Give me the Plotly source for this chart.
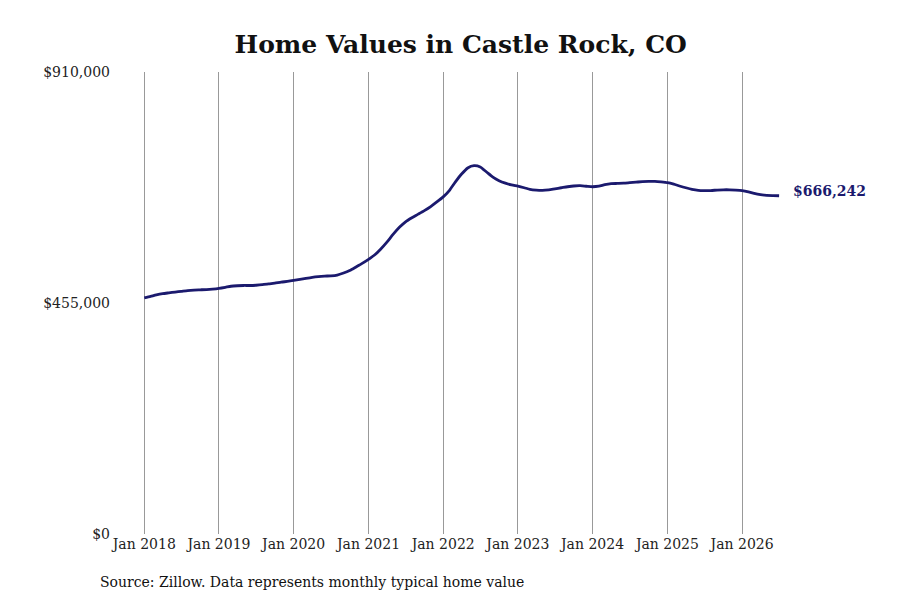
import plotly.graph_objects as go
import pandas as pd

# monthly typical home value, Castle Rock CO
start_month = "2018-01-01"
values = [
    465000, 468000, 471000, 473500, 475000, 476500, 478000, 479500, 480500, 481000, 481500, 482500,
    484000, 486000, 488000, 489000, 489500, 489500, 490000, 491000, 492500, 494000, 496000, 497500,
    499500, 501500, 503500, 505500, 507000, 508000, 508500, 510000, 514000, 519000, 526000, 533000,
    541000, 550000, 561000, 575000, 590000, 604000, 615000, 623000, 630000, 637000, 645000, 654000,
    664000, 677000, 693000, 709000, 721000, 725500, 723000, 713000, 703000, 696000, 691000, 687500,
    685000, 682000, 679000, 677500, 677000, 678000, 680000, 682000, 684000, 685500, 686000, 685000,
    684000, 685000, 688000, 690000, 690500, 691000, 692000, 693000, 694000, 694500, 694500, 693500,
    692000, 689000, 685500, 682000, 679000, 677000, 676500, 676500, 677500, 678000, 678000, 677500,
    676500, 674000, 671000, 668500, 667000, 666500, 666242,
]
dates = pd.date_range(start_month, periods=len(values), freq="MS")

tick_dates = pd.date_range("2018-01-01", "2026-01-01", freq="YS")
tick_text = [d.strftime("Jan %Y") for d in tick_dates]
y_ticks = [0, 455000, 910000]
y_text = ["$0", "$455,000", "$910,000"]

navy = "#1b1a6e"
serif = "DejaVu Serif"

fig = go.Figure()
fig.add_trace(go.Scatter(
    x=dates, y=values, mode="lines",
    line=dict(color=navy, width=2.8, shape="spline", smoothing=0.6),
    hoverinfo="x+y", showlegend=False,
))

# end label
fig.add_annotation(
    x=dates[-1], y=values[-1], text="<b>${:,.0f}</b>".format(values[-1]),
    showarrow=False, xanchor="left", xshift=12, yshift=5,
    font=dict(family=serif, size=14, color=navy),
)
fig.add_annotation(
    xref="paper", yref="paper", x=-0.024, y=-0.103,
    text="Source: Zillow. Data represents monthly typical home value",
    showarrow=False, xanchor="left", yanchor="middle",
    font=dict(family=serif, size=14, color="#111"),
)

# page has an 8px body margin, so margins are shifted to compensate
fig.update_layout(
    width=900, height=600,
    paper_bgcolor="white", plot_bgcolor="white",
    margin=dict(l=106, r=107, t=64, b=74),
    title=dict(text="<b>Home Values in Castle Rock, CO</b>", x=0.503, xanchor="center",
               y=0.94, yanchor="middle",
               font=dict(family=serif, size=25, color="#111")),
    font=dict(family=serif, size=14, color="#222"),
)
fig.update_xaxes(
    range=["2017-08-06", "2026-10-16"],
    tickvals=tick_dates, ticktext=tick_text,
    showgrid=True, gridcolor="#999", gridwidth=1,
    ticks="", ticklabelstandoff=0,
    showline=False, zeroline=False,
    tickfont=dict(family=serif, size=14, color="#222"),
)
fig.update_yaxes(
    range=[0, 910000], tickvals=y_ticks, ticktext=y_text,
    showgrid=False, zeroline=False, showline=False,
    ticklabelstandoff=3,
    tickfont=dict(family=serif, size=14, color="#222"),
)

fig.write_html("out.html")
